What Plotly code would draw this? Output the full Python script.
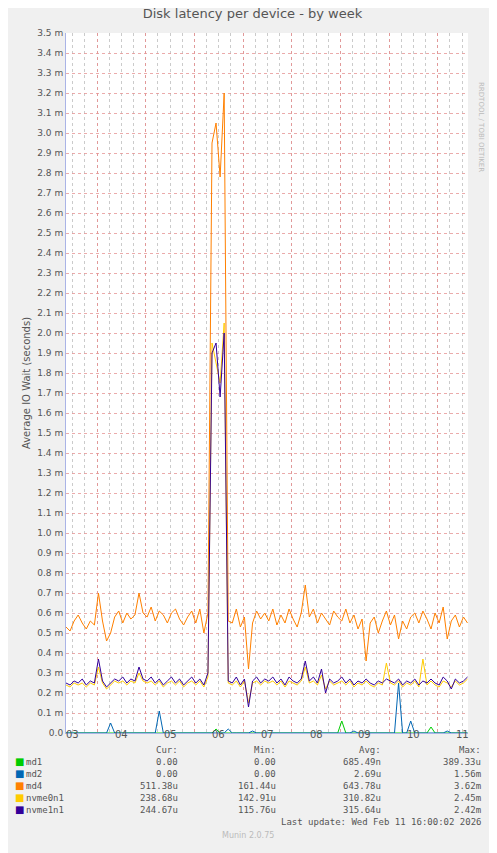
import plotly.graph_objects as go

# x: days, 4.0 = Feb 04 00:00, one sample every 2 hours
x_start = 3.36
step = 1 / 12
n_points = 100

md4 = [0.53, 0.51, 0.56, 0.59, 0.55, 0.52, 0.56, 0.54, 0.70, 0.56,
       0.46, 0.50, 0.58, 0.61, 0.55, 0.60, 0.57, 0.59, 0.70, 0.60,
       0.58, 0.63, 0.56, 0.61, 0.59, 0.55, 0.60, 0.62, 0.57, 0.54,
       0.58, 0.61, 0.55, 0.62, 0.50, 0.60, 2.95, 3.05, 2.78, 3.20,
       0.56, 0.55, 0.62, 0.53, 0.58, 0.32, 0.55, 0.61, 0.57, 0.60,
       0.56, 0.62, 0.54, 0.59, 0.55, 0.62, 0.57, 0.53, 0.60, 0.74,
       0.58, 0.62, 0.55, 0.60, 0.57, 0.54, 0.61, 0.58, 0.56, 0.62,
       0.55, 0.59, 0.52, 0.57, 0.36, 0.55, 0.58, 0.50, 0.56, 0.61,
       0.54, 0.59, 0.47, 0.56, 0.52, 0.58, 0.60, 0.55, 0.61, 0.57,
       0.52, 0.60, 0.55, 0.63, 0.47, 0.56, 0.59, 0.53, 0.58, 0.55]

nvme0n1 = [0.24, 0.23, 0.25, 0.24, 0.25, 0.23, 0.25, 0.24, 0.33, 0.25,
           0.22, 0.24, 0.26, 0.25, 0.26, 0.24, 0.26, 0.25, 0.30, 0.26,
           0.25, 0.26, 0.24, 0.26, 0.23, 0.25, 0.26, 0.24, 0.26, 0.23,
           0.25, 0.26, 0.24, 0.26, 0.23, 0.28, 1.95, 1.85, 1.75, 2.05,
           0.25, 0.24, 0.26, 0.23, 0.26, 0.15, 0.25, 0.26, 0.24, 0.26,
           0.25, 0.26, 0.24, 0.26, 0.23, 0.26, 0.25, 0.24, 0.26, 0.33,
           0.25, 0.26, 0.24, 0.29, 0.22, 0.26, 0.24, 0.25, 0.26, 0.24,
           0.26, 0.23, 0.25, 0.24, 0.26, 0.24, 0.23, 0.25, 0.24, 0.35,
           0.25, 0.24, 0.26, 0.23, 0.25, 0.24, 0.26, 0.23, 0.37, 0.24,
           0.26, 0.24, 0.23, 0.26, 0.25, 0.23, 0.26, 0.24, 0.25, 0.27]

nvme1n1 = [0.25, 0.24, 0.26, 0.25, 0.27, 0.24, 0.26, 0.25, 0.37, 0.26,
           0.23, 0.25, 0.27, 0.26, 0.28, 0.25, 0.27, 0.26, 0.33, 0.27,
           0.26, 0.28, 0.25, 0.27, 0.24, 0.26, 0.28, 0.25, 0.27, 0.24,
           0.26, 0.28, 0.25, 0.27, 0.24, 0.30, 1.90, 1.95, 1.68, 2.00,
           0.26, 0.25, 0.28, 0.24, 0.27, 0.13, 0.26, 0.28, 0.25, 0.27,
           0.26, 0.28, 0.25, 0.27, 0.24, 0.28, 0.26, 0.25, 0.27, 0.36,
           0.26, 0.28, 0.25, 0.32, 0.20, 0.27, 0.25, 0.26, 0.28, 0.25,
           0.27, 0.24, 0.26, 0.25, 0.27, 0.25, 0.24, 0.26, 0.25, 0.27,
           0.26, 0.25, 0.27, 0.24, 0.26, 0.25, 0.27, 0.24, 0.26, 0.25,
           0.27, 0.25, 0.24, 0.28, 0.26, 0.22, 0.27, 0.25, 0.26, 0.28]

# md1 / md2 are zero apart from a few spikes (sample index -> value)
md1_spikes = {37: 0.02, 68: 0.06, 90: 0.03}
md2_spikes = {11: 0.05, 23: 0.11, 40: 0.02, 46: 0.01, 71: 0.01, 82: 0.25, 85: 0.06, 94: 0.01}
md1 = [md1_spikes.get(i, 0.0) for i in range(n_points)]
md2 = [md2_spikes.get(i, 0.0) for i in range(n_points)]

day_labels = ["03", "04", "05", "06", "07", "08", "09", "10", "11"]
legend_rows = [
    ("md1", "#00CC00", "0.00", "0.00", "685.49n", "389.33u"),
    ("md2", "#0066B3", "0.00", "0.00", "2.69u", "1.56m"),
    ("md4", "#FF8000", "511.38u", "161.44u", "643.78u", "3.62m"),
    ("nvme0n1", "#FFCC00", "238.68u", "142.91u", "310.82u", "2.45m"),
    ("nvme1n1", "#330099", "244.67u", "115.76u", "315.64u", "2.42m"),
]
series = {"md1": md1, "md2": md2, "md4": md4, "nvme0n1": nvme0n1, "nvme1n1": nvme1n1}

xs = [x_start + i * step for i in range(n_points)]

# the page puts the figure 8px in from the top-left corner
OFF = 8
W, H = 497 - OFF, 853 - OFF
L, R, T, B = 66 - OFF, 29, 33 - OFF, 120
PW, PH = W - L - R, H - T - B
MONO = "DejaVu Sans Mono"
TXT = "#555555"


def px(xp):
    return (xp - OFF - L) / PW


def py(yp):
    return (H - B - (yp - OFF)) / PH


fig = go.Figure()
for name, color, *_ in legend_rows:
    fig.add_trace(go.Scatter(x=xs, y=series[name], mode="lines", name=name,
                             line=dict(color=color, width=1), showlegend=False))

ann = []
for i, lab in enumerate(day_labels):
    ann.append(dict(x=3.5 + i, y=py(742), xref="x", yref="paper", text=lab, showarrow=False,
                    font=dict(family="DejaVu Sans", size=10, color=TXT)))

for txt, xr in [("Cur:", 180), ("Min:", 278), ("Avg:", 383), ("Max:", 483)]:
    ann.append(dict(x=px(xr), y=py(757), xref="paper", yref="paper", text=txt, showarrow=False,
                    xanchor="right", font=dict(family=MONO, size=9, color=TXT)))
for r, (name, color, cur, mn, avg, mx) in enumerate(legend_rows):
    yy = py(769 + 12 * r)
    ann.append(dict(x=px(13), y=yy, xref="paper", yref="paper", text="■", showarrow=False,
                    xanchor="left", font=dict(family="DejaVu Sans", size=10, color=color)))
    ann.append(dict(x=px(24), y=yy, xref="paper", yref="paper", text=name, showarrow=False,
                    xanchor="left", font=dict(family=MONO, size=9, color=TXT)))
    for val, xr in [(cur, 180), (mn, 278), (avg, 383), (mx, 483)]:
        ann.append(dict(x=px(xr), y=yy, xref="paper", yref="paper", text=val, showarrow=False,
                        xanchor="right", font=dict(family=MONO, size=9, color=TXT)))
ann.append(dict(x=px(483), y=py(829), xref="paper", yref="paper",
                text="Last update: Wed Feb 11 16:00:02 2026", showarrow=False,
                xanchor="right", font=dict(family=MONO, size=9, color=TXT)))
ann.append(dict(x=px(248), y=py(842), xref="paper", yref="paper", text="Munin 2.0.75",
                showarrow=False, font=dict(family="DejaVu Sans", size=8, color="#BBBBBB")))
ann.append(dict(x=px(487), y=py(80), xref="paper", yref="paper", text="RRDTOOL / TOBI OETIKER",
                showarrow=False, textangle=90, font=dict(family="DejaVu Sans", size=7, color="#BBBBBB")))

yvals = [round(k * 0.1, 1) for k in range(36)]
ytext = ["0.0"] + [f"{v:.1f} m" for v in yvals[1:]]

fig.update_layout(
    width=W, height=H,
    margin=dict(l=L, r=R, t=T, b=B),
    paper_bgcolor="#F0F0F0",
    plot_bgcolor="white",
    title=dict(text="Disk latency per device - by week", x=0.5, y=1 - 5 / H, xanchor="center",
               yanchor="middle", font=dict(family="DejaVu Sans", size=13, color=TXT)),
    xaxis=dict(range=[x_start, x_start + (n_points - 1) * step + 0.01],
               tickvals=list(range(4, 12)), showticklabels=False, ticks="",
               showgrid=True, gridcolor="rgba(230,140,140,0.8)", griddash="dot", gridwidth=1,
               minor=dict(dtick=0.25, tick0=0, showgrid=True, gridcolor="rgba(190,190,190,0.8)",
                          griddash="dot", gridwidth=1),
               zeroline=False, showline=True, linecolor="#AAB4E6", linewidth=1),
    yaxis=dict(range=[0, 3.5], tickvals=yvals, ticktext=ytext,
               showgrid=True, gridcolor="rgba(230,150,150,0.8)", griddash="dot", gridwidth=1,
               zeroline=False, showline=True, linecolor="#AAB4E6", linewidth=1,
               tickfont=dict(family="DejaVu Sans", size=9, color=TXT),
               title=dict(text="Average IO Wait (seconds)", standoff=4,
                          font=dict(family="DejaVu Sans", size=10, color=TXT))),
    annotations=ann,
)

fig.write_html("out.html")
